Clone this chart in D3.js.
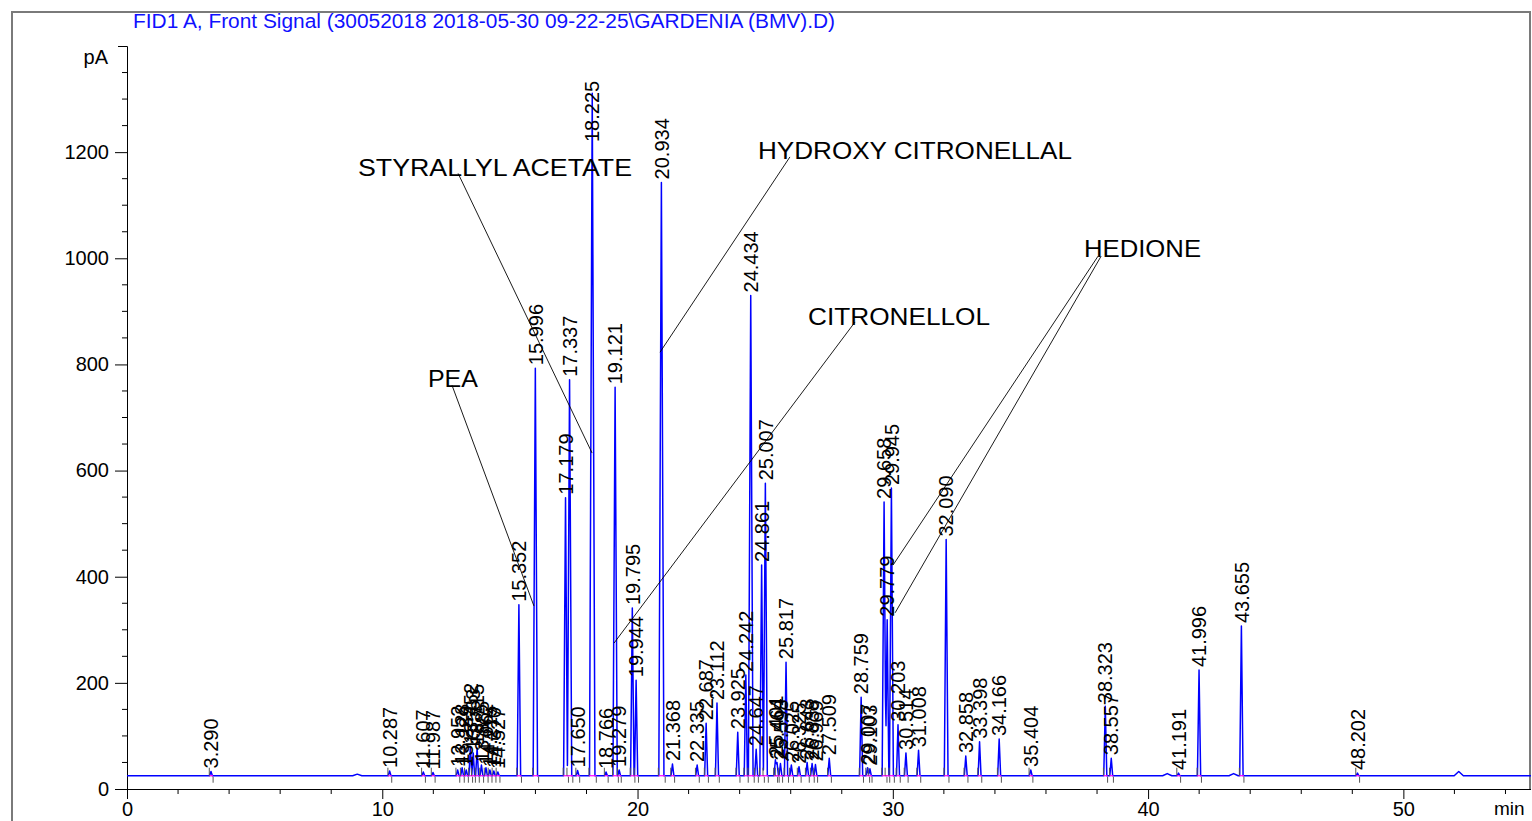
<!DOCTYPE html>
<html><head><meta charset="utf-8">
<script src="https://cdn.jsdelivr.net/npm/d3@7"></script>
<style>
body{margin:0;background:#fff;}
svg{display:block;}
text{font-family:"Liberation Sans",Arial,Helvetica,sans-serif;}
</style>
</head><body>
<svg id="chart" width="1532" height="821"></svg>
<script>
// ---------------- data ----------------
const titleText = "FID1 A, Front Signal (30052018 2018-05-30 09-22-25\\GARDENIA (BMV).D)";
const yUnit = "pA";
const xUnit = "min";
const baselineLevel = 25;           // pA
const xTickValues = [0, 10, 20, 30, 40, 50];
const yTickValues = [0, 200, 400, 600, 800, 1000, 1200];

const peakLabels = ["3.290","10.287","11.607","11.987","12.952","13.128","13.289","13.452","13.563","13.715","13.885","14.062","14.215","14.370","14.527",
  "15.352","15.996","17.179","17.337","17.650","18.225","18.766","19.121","19.279","19.795","19.944","20.934","21.368","22.335","22.687","23.112",
  "23.925","24.242","24.434","24.647","24.861","25.007","25.401","25.464","25.598","25.817","26.025","26.325","26.643","26.838","26.969","27.509",
  "28.759","29.007","29.103","29.658","29.779","29.945","30.203","30.514","31.008","32.090","32.858","33.398","34.166","35.404","38.323","38.557",
  "41.191","41.996","43.655","48.202"];
const peakTimes = peakLabels.map(Number);
const peakHeights = [33,34,32,31,36,40,36,79,68,77,45,40,36,34,32,
  347,793,549,771,35,1311,32,757,36,341,205,1143,47,45,124,162,
  107,215,930,75,422,576,55,50,48,239,45,42,50,48,46,58,
  173,40,38,541,319,567,121,68,73,470,62,89,94,36,156,58,
  30,224,307,30];

// small unlabeled bumps
const minorTimes = [9.02, 40.75, 43.35, 52.17];
const minorHeights = [28, 29, 29, 33];

// named compounds with leader lines
const annotationNames = ["STYRALLYL ACETATE", "PEA", "HYDROXY CITRONELLAL", "CITRONELLOL", "HEDIONE", "HEDIONE"];
const annotationTextTime = [9.05, 11.79, 24.72, 26.68, 37.49, 37.49];
const annotationTextValue = [1155, 757, 1187, 874, 1002, 1002];
const annotationStartTime = [12.97, 12.73, 25.97, 28.52, 38.04, 38.16];
const annotationStartValue = [1160, 761, 1191, 880, 1004, 1004];
const annotationTargetTime = [18.22, 15.94, 20.88, 19.08, 30.01, 30.09];
const annotationTargetValue = [633, 345, 823, 275, 422, 332];
const annotationTextWidth = [274, 50, 314, 182, 117, 0];

// ---------------- layout ----------------
const svg = d3.select("#chart");
const x = d3.scaleLinear().domain([0, 55]).range([127, 1531]);
const y = d3.scaleLinear().domain([0, 1400]).range([789, 46]);

// frame
svg.append("path").attr("d","M12,830 L12,12 L1530,12 L1530,789")
  .attr("fill","none").attr("stroke","#7a7a7a").attr("stroke-width",2);

// title
svg.append("text").attr("x",133).attr("y",28).attr("fill","#1010ff")
  .attr("font-size",20).attr("textLength",702).attr("lengthAdjust","spacingAndGlyphs")
  .text(titleText);

// ---------------- peaks -> trace ----------------
const halfW = h => 0.055 + 0.00004 * (h - baselineLevel);
const peaks = peakTimes.map((t,i)=>({t, h: peakHeights[i], label: peakLabels[i], w: halfW(peakHeights[i])}));
const bumps = minorTimes.map((t,i)=>({t, h: minorHeights[i], w: 0.18}));
const all = peaks.concat(bumps);

function signal(t){
  let v = baselineLevel;
  for (const p of all){
    const d = Math.abs(t - p.t);
    if (d < p.w) v += (p.h - baselineLevel) * (1 - d / p.w);
  }
  return v;
}
let bps = [0, 55];
all.forEach(p => { bps.push(p.t - p.w, p.t, p.t + p.w); });
bps = Array.from(new Set(bps.map(v=>+v.toFixed(5)))).filter(v=>v>=0 && v<=55).sort((a,b)=>a-b);
const tracePts = bps.map(t => [t, signal(t)]);

const line = d3.line().x(d=>x(d[0])).y(d=>y(d[1]));

// axes
const xAxis = d3.axisBottom(x).tickValues(xTickValues).tickSize(10).tickFormat(d3.format("d"));
const gx = svg.append("g").attr("transform","translate(0,789)").call(xAxis);
gx.select(".domain").attr("d","M127,0.5H1531").attr("stroke","#000");
gx.selectAll(".tick line").attr("stroke","#000");
gx.selectAll(".tick text").attr("font-size",20).attr("y",13).attr("fill","#000").attr("font-family","Liberation Sans, Arial");
const gxm = svg.append("g").attr("transform","translate(0,789)");
gxm.selectAll("line").data(d3.range(0, 55.01, 2).filter(v=>v%10!==0)).enter().append("line")
  .attr("x1",d=>x(d)).attr("x2",d=>x(d)).attr("y1",0).attr("y2",5).attr("stroke","#000");
svg.append("text").attr("x",1494).attr("y",815).attr("font-size",19).text(xUnit);

const yAxis = d3.axisLeft(y).tickValues(yTickValues).tickSize(12).tickPadding(6).tickFormat(d3.format("d"));
const gy = svg.append("g").attr("transform","translate(127,0)").call(yAxis);
gy.select(".domain").attr("d","M-9,46.5H0.5V789").attr("stroke","#000");
gy.selectAll(".tick line").attr("stroke","#000");
gy.selectAll(".tick text").attr("font-size",20).attr("fill","#000").attr("font-family","Liberation Sans, Arial");
svg.append("g").attr("transform","translate(127,0)").selectAll("line")
  .data(d3.range(50, 1400, 50).filter(v=>v%200!==0)).enter().append("line")
  .attr("x1",-5).attr("x2",0).attr("y1",d=>y(d)).attr("y2",d=>y(d)).attr("stroke","#000");
svg.append("text").attr("x",108).attr("y",64).attr("font-size",20).attr("text-anchor","end").text(yUnit);

// signal trace
svg.append("path").datum(tracePts).attr("d",line)
  .attr("fill","none").attr("stroke","#0000ff").attr("stroke-width",1.5).attr("stroke-linejoin","round");

// integration baselines (magenta) and start/end marks
const gInt = svg.append("g");
peaks.forEach(p=>{
  const s = p.t - p.w*1.2, e = p.t + p.w*1.5;
  gInt.append("line").attr("x1",x(s)).attr("x2",x(e)).attr("y1",y(baselineLevel)).attr("y2",y(baselineLevel))
    .attr("stroke","#ff00ff").attr("stroke-width",1.2);
  gInt.append("line").attr("x1",x(s)).attr("x2",x(s)).attr("y1",y(baselineLevel)).attr("y2",y(baselineLevel)-8)
    .attr("stroke","#555").attr("stroke-width",1);
  gInt.append("line").attr("x1",x(e)).attr("x2",x(e)).attr("y1",y(baselineLevel)+1).attr("y2",y(baselineLevel)+7)
    .attr("stroke","#555").attr("stroke-width",1);
});

// peak labels
const gLab = svg.append("g");
peaks.forEach(p=>{
  const px = x(p.t);
  const py = Math.max(y(p.h) - 3, 142);
  gLab.append("text").attr("transform",`translate(${px},${py}) rotate(-90)`)
    .attr("dy","0.36em").attr("font-size",20).attr("fill","#000").text(p.label);
});

// annotations
const gAnn = svg.append("g");
annotationNames.forEach((n,i)=>{
  gAnn.append("line").attr("x1",x(annotationStartTime[i])).attr("y1",y(annotationStartValue[i]))
    .attr("x2",x(annotationTargetTime[i])).attr("y2",y(annotationTargetValue[i]))
    .attr("stroke","#000").attr("stroke-width",0.9);
  if (annotationTextWidth[i] > 0){
    gAnn.append("text").attr("x",x(annotationTextTime[i])).attr("y",y(annotationTextValue[i]))
      .attr("font-size",24).attr("fill","#000")
      .attr("textLength",annotationTextWidth[i]).attr("lengthAdjust","spacingAndGlyphs").text(n);
  }
});
</script>
</body></html>
